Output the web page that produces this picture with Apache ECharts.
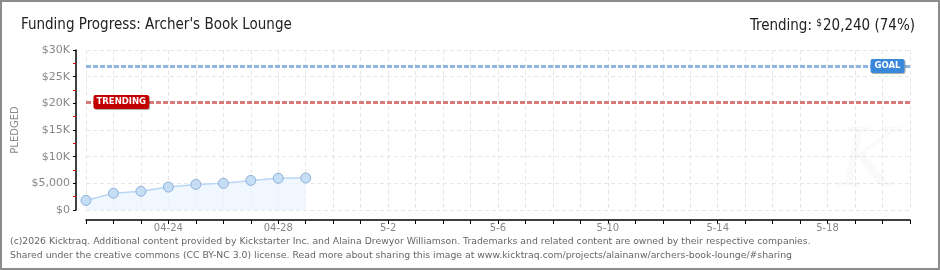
<!DOCTYPE html>
<html><head><meta charset="utf-8">
<script src="https://cdn.jsdelivr.net/npm/echarts@6/dist/echarts.min.js"></script>
<style>html,body{margin:0;padding:0;background:#fff}#c{width:940px;height:270px}</style>
</head><body><div id="c"></div>
<script>
const categories = ['04-21','04-22','04-23','04-24','04-25','04-26','04-27','04-28','04-29','04-30',
  '5-1','5-2','5-3','5-4','5-5','5-6','5-7','5-8','5-9','5-10','5-11','5-12','5-13','5-14','5-15',
  '5-16','5-17','5-18','5-19','5-20','5-21'];
const pledged = [1800, 3150, 3500, 4300, 4800, 5000, 5550, 5950, 6000];
const goal = 27000;
const trending = 20240;
const yTickLabels = {0:'$0', 5000:'$5,000', 10000:'$10K', 15000:'$15K', 20000:'$20K', 25000:'$25K', 30000:'$30K'};
const footerLines = [
  '(c)2026 Kicktraq. Additional content provided by Kickstarter Inc. and Alaina Drewyor Williamson. Trademarks and related content are owned by their respective companies.',
  'Shared under the creative commons (CC BY-NC 3.0) license. Read more about sharing this image at www.kicktraq.com/projects/alainanw/archers-book-lounge/#sharing'
];

const chart = echarts.init(document.getElementById('c'));
const pct = Math.floor(trending / goal * 100);
const titleFont = 'DejaVu Sans Condensed';
chart.setOption({
  animation: false,
  backgroundColor: '#fff',
  title: [
    {text: "Funding Progress: Archer's Book Lounge", left: 16, top: 13,
     textStyle: {fontFamily: titleFont, fontSize: 15, fontWeight: 'normal', color: '#222'}},
    {text: '{a|Trending: }{s|$}{b|' + trending.toLocaleString('en-US') + ' (' + pct + '%)}', right: 20, top: 13,
     textStyle: {fontWeight: 'normal', rich: {
       a: {fontFamily: titleFont, fontSize: 15, fontWeight: 'normal', color: '#222'},
       s: {fontFamily: titleFont, fontSize: 10, fontWeight: 'normal', color: '#222', verticalAlign: 'top', padding: [0,1,6,0]},
       b: {fontFamily: titleFont, fontSize: 15, fontWeight: 'normal', color: '#222'}
     }}}
  ],
  grid: {left: 86, right: 30, top: 50, bottom: 60},
  xAxis: {
    type: 'category', data: categories, boundaryGap: false, offset: 10,
    axisLine: {onZero: false, lineStyle: {color: '#000', width: 1.5}},
    axisTick: {interval: 0, length: 4, lineStyle: {color: '#000'}},
    axisLabel: {interval: function(i){ return i % 4 === 3; }, color: '#888', fontFamily: 'DejaVu Sans', fontSize: 10, margin: 3},
    splitLine: {show: true, interval: 0, lineStyle: {color: '#e6e6e6', type: [4,3]}}
  },
  yAxis: {
    type: 'value', min: 0, max: 30000, interval: 5000, offset: 10,
    name: 'PLEDGED', nameLocation: 'middle', nameGap: 50, nameRotate: 90,
    nameTextStyle: {color: '#888', fontFamily: 'DejaVu Sans', fontSize: 10},
    axisLine: {show: true, onZero: false, lineStyle: {color: '#000', width: 1.5}},
    axisTick: {show: true, length: 3, lineStyle: {color: '#000'}},
    minorTick: {show: true, splitNumber: 2, length: 3, lineStyle: {color: '#e00000'}},
    axisLabel: {formatter: v => yTickLabels[v], color: '#888', fontFamily: 'DejaVu Sans', fontSize: 11, margin: 6},
    splitLine: {show: true, lineStyle: {color: '#e6e6e6', type: [4,3]}}
  },
  series: [{
    type: 'line', data: pledged, symbol: 'circle', symbolSize: 10,
    lineStyle: {color: '#b9d7f5', width: 1.5},
    itemStyle: {color: '#c6ddf6', borderColor: '#8eb1d8', borderWidth: 1},
    areaStyle: {color: '#ebf3fd'},
    markLine: {
      silent: true, symbol: 'none', label: {show: false},
      data: [
        {yAxis: goal, lineStyle: {color: '#8fb5e2', width: 3, type: [5,2]}},
        {yAxis: trending, lineStyle: {color: '#d77a7a', width: 3, type: [5,2]}}
      ]
    },
    markPoint: {
      silent: true, symbol: 'rect', symbolSize: 1, itemStyle: {color: 'rgba(0,0,0,0)'},
      data: [
        {coord: [categories[categories.length - 1], goal],
         label: {show: true, formatter: 'GOAL', position: 'left', distance: 5, color: '#fff',
                 fontFamily: 'DejaVu Sans', fontSize: 8.5, fontWeight: 'bold', backgroundColor: '#3a88da',
                 borderRadius: 2, padding: [3,4,2,4], shadowColor: 'rgba(0,0,0,0.3)', shadowOffsetX: 1, shadowOffsetY: 1}},
        {coord: [categories[0], trending],
         label: {show: true, formatter: 'TRENDING', position: 'right', distance: 7, color: '#fff',
                 fontFamily: 'DejaVu Sans', fontSize: 8.5, fontWeight: 'bold', backgroundColor: '#c20000',
                 borderRadius: 2, padding: [3,3,2,3], shadowColor: 'rgba(0,0,0,0.3)', shadowOffsetX: 1, shadowOffsetY: 1}}
      ]
    }
  }],
  graphic: [
    {type: 'text', left: 838, top: 125, z: -1, silent: true,
     style: {text: 'K', fontFamily: 'DejaVu Serif', fontStyle: 'italic', fontSize: 80, fill: 'rgba(0,0,0,0.02)'}},
    {type: 'text', left: 10, top: 237, style: {text: footerLines[0], fill: '#666', fontFamily: 'DejaVu Sans', fontSize: 9.3}},
    {type: 'text', left: 10, top: 251, style: {text: footerLines[1], fill: '#666', fontFamily: 'DejaVu Sans', fontSize: 9.3}},
    {type: 'rect', silent: true, shape: {x: 1, y: 1, width: 938, height: 268},
     style: {fill: 'none', stroke: '#8c8c8c', lineWidth: 2}}
  ]
});
</script></body></html>
